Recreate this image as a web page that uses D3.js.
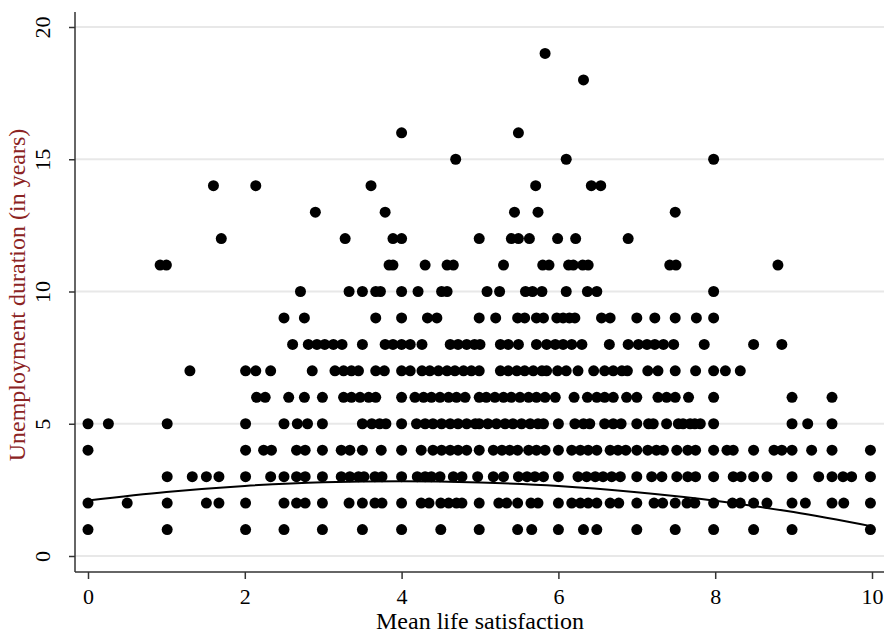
<!DOCTYPE html>
<html>
<head>
<meta charset="utf-8">
<script src="https://cdn.jsdelivr.net/npm/d3@7"></script>
<style>
  body { margin: 0; background: #fff; }
  svg { display: block; }
  text { font-family: "Liberation Serif", "Times New Roman", serif; }
</style>
</head>
<body>
<svg width="884" height="634"></svg>
<script>
// x positions (mean life satisfaction) for each unemployment duration
const dur1 = [0, 1.01, 2.01, 2.5, 2.99, 3.5, 4.0, 4.5, 4.99, 5.48, 5.66, 6.0, 6.32, 6.49, 7.0, 7.49, 7.98, 8.49, 8.98, 9.98];
const dur2 = [0, 0.5, 1.01, 1.51, 1.67, 2.01, 2.5, 2.66, 2.77, 2.99, 3.33, 3.5, 3.66, 3.75, 4.0, 4.25, 4.35, 4.5, 4.6, 4.7, 4.77, 4.99,
              5.24, 5.34, 5.48, 5.65, 5.74, 6.0, 6.17, 6.28, 6.38, 6.49, 6.66, 6.77, 7.0, 7.22, 7.33, 7.49, 7.64, 7.74, 7.98,
              8.22, 8.32, 8.49, 8.66, 8.98, 9.15, 9.49, 9.64, 9.98];
const dur3 = [1.01, 1.33, 1.51, 1.67, 2.01, 2.33, 2.5, 2.66, 2.77, 2.99, 3.23, 3.34, 3.45, 3.52, 3.66, 3.75, 4.0, 4.2, 4.3, 4.38, 4.49,
              4.66, 4.77, 4.97, 5.17, 5.3, 5.49, 5.6, 5.7, 5.81, 6.0, 6.25, 6.36, 6.47, 6.57, 6.68, 6.79, 7.0, 7.19, 7.32, 7.51,
              7.65, 7.75, 7.98, 8.23, 8.33, 8.49, 8.66, 8.98, 9.32, 9.49, 9.63, 9.74, 9.98];
const dur4 = [0, 2.01, 2.24, 2.34, 2.66, 2.77, 2.99, 3.23, 3.34, 3.5, 3.74, 4.0, 4.25, 4.4, 4.51, 4.62, 4.72, 4.83, 4.99, 5.17, 5.28,
              5.38, 5.48, 5.62, 5.72, 5.83, 6.0, 6.17, 6.28, 6.38, 6.49, 6.66, 6.76, 6.86, 7.0, 7.14, 7.25, 7.34, 7.51, 7.65,
              7.75, 7.98, 8.15, 8.23, 8.49, 8.75, 8.85, 8.98, 9.23, 9.49, 9.98];
const dur5 = [0, 0.26, 1.01, 2.01, 2.5, 2.67, 2.8, 2.99, 3.5, 3.62, 3.72, 3.8, 4.0, 4.19, 4.3, 4.4, 4.51, 4.62, 4.72, 4.83, 4.94, 4.99,
              5.1, 5.21, 5.32, 5.42, 5.53, 5.64, 5.74, 5.81, 6.0, 6.21, 6.32, 6.4, 6.59, 6.7, 6.8, 7.0, 7.15, 7.21, 7.38, 7.53,
              7.59, 7.68, 7.74, 7.81, 7.98, 8.98, 9.18, 9.49];
const dur6 = [2.15, 2.26, 2.56, 2.76, 2.99, 3.26, 3.36, 3.47, 3.58, 3.67, 4.0, 4.17, 4.28, 4.38, 4.49, 4.6, 4.7, 4.81, 4.99, 5.08,
              5.19, 5.3, 5.4, 5.51, 5.62, 5.72, 5.83, 5.96, 6.2, 6.37, 6.49, 6.59, 6.7, 6.87, 7.0, 7.27, 7.38, 7.49, 7.66, 7.98,
              8.98, 9.49];
const dur7 = [1.3, 2.01, 2.14, 2.33, 2.86, 3.15, 3.26, 3.36, 3.45, 3.67, 3.78, 4.0, 4.11, 4.26, 4.36, 4.47, 4.58, 4.68, 4.79, 4.89,
              4.99, 5.26, 5.36, 5.47, 5.57, 5.68, 5.79, 5.85, 5.99, 6.1, 6.25, 6.45, 6.59, 6.7, 6.81, 6.88, 7.14, 7.27, 7.49,
              7.75, 7.98, 8.13, 8.32];
const dur8 = [2.61, 2.81, 2.92, 3.02, 3.13, 3.24, 3.5, 3.79, 3.89, 4.0, 4.11, 4.26, 4.62, 4.72, 4.83, 4.93, 5.0, 5.26, 5.36, 5.49,
              5.72, 5.85, 5.96, 6.06, 6.17, 6.3, 6.65, 6.89, 7.02, 7.13, 7.23, 7.34, 7.47, 7.86, 8.49, 8.85];
const dur9 = [2.5, 2.76, 3.67, 4.0, 4.33, 4.45, 4.99, 5.2, 5.48, 5.57, 5.72, 5.81, 5.98, 6.06, 6.14, 6.21, 6.55, 6.66, 7.0, 7.23,
              7.49, 7.76, 7.98];
const dur10 = [2.71, 3.33, 3.5, 3.67, 3.73, 4.0, 4.21, 4.51, 4.58, 5.09, 5.25, 5.58, 5.67, 5.79, 6.1, 6.37, 6.49, 7.98];
const dur11 = [0.92, 1.0, 3.84, 3.89, 4.3, 4.58, 4.66, 5.3, 5.8, 5.88, 6.13, 6.19, 6.31, 6.38, 7.42, 7.5, 8.8];
const dur12 = [1.7, 3.28, 3.89, 4.0, 4.99, 5.4, 5.49, 5.63, 5.99, 6.22, 6.89];
const dur13 = [2.9, 3.79, 5.44, 5.74, 7.49];
const dur14 = [1.6, 2.14, 3.61, 5.71, 6.42, 6.54];
const dur15 = [4.69, 6.1, 7.98];
const dur16 = [4.0, 5.49];
const dur18 = [6.32];
const dur19 = [5.83];

// fitted curve at x = 0..10
const fitX = [0, 1, 2, 3, 4, 5, 6, 7, 8, 9, 10];
const fitY = [2.1, 2.42, 2.65, 2.79, 2.83, 2.78, 2.65, 2.41, 2.09, 1.66, 1.12];

const xTicks = [0, 2, 4, 6, 8, 10];
const yTicks = [0, 5, 10, 15, 20];

const groups = [[1, dur1], [2, dur2], [3, dur3], [4, dur4], [5, dur5], [6, dur6], [7, dur7], [8, dur8], [9, dur9],
                [10, dur10], [11, dur11], [12, dur12], [13, dur13], [14, dur14], [15, dur15], [16, dur16],
                [18, dur18], [19, dur19]];
const points = [];
groups.forEach(([y, xs]) => xs.forEach(x => points.push({x: x, y: y})));

const svg = d3.select("svg");
const xScale = d3.scaleLinear().domain([0, 10]).range([88, 872]);
const yScale = d3.scaleLinear().domain([0, 20]).range([556, 27]);
const plotLeft = 75, plotBottom = 572, plotTop = 12, plotRight = 884;

// gridlines
svg.append("g")
  .selectAll("line")
  .data(yTicks)
  .enter().append("line")
  .attr("x1", plotLeft).attr("x2", plotRight)
  .attr("y1", d => yScale(d)).attr("y2", d => yScale(d))
  .attr("stroke", "#e8e8e8")
  .attr("stroke-width", 2);

// points
svg.append("g")
  .selectAll("circle")
  .data(points)
  .enter().append("circle")
  .attr("cx", d => xScale(d.x))
  .attr("cy", d => yScale(d.y))
  .attr("r", 5.5)
  .attr("fill", "#000");

// fitted line
const line = d3.line()
  .x((d, i) => xScale(fitX[i]))
  .y(d => yScale(d))
  .curve(d3.curveMonotoneX);
svg.append("path")
  .datum(fitY)
  .attr("d", line)
  .attr("fill", "none")
  .attr("stroke", "#000")
  .attr("stroke-width", 2);

// x axis
const xAxis = d3.axisBottom(xScale).tickValues(xTicks).tickSize(7).tickPadding(9).tickFormat(d3.format("d"));
const gx = svg.append("g")
  .attr("transform", "translate(0," + plotBottom + ")")
  .call(xAxis);
gx.select(".domain").remove();
gx.append("line").attr("x1", plotLeft).attr("x2", plotRight).attr("stroke", "#333").attr("stroke-width", 1.5);
gx.selectAll(".tick line").attr("stroke", "#333").attr("stroke-width", 1.5);
gx.selectAll(".tick text").attr("font-size", 22).attr("fill", "#000")
  .style("font-family", "'Liberation Serif', serif");

// y axis
const yAxis = d3.axisLeft(yScale).tickValues(yTicks).tickSize(6).tickPadding(0).tickFormat(d3.format("d"));
const gy = svg.append("g")
  .attr("transform", "translate(" + plotLeft + ",0)")
  .call(yAxis);
gy.select(".domain").remove();
gy.append("line").attr("y1", plotTop).attr("y2", plotBottom).attr("stroke", "#333").attr("stroke-width", 1.5);
gy.selectAll(".tick line").attr("stroke", "#333").attr("stroke-width", 1.5);
gy.selectAll(".tick text")
  .attr("font-size", 22).attr("fill", "#000")
  .attr("x", 0).attr("dy", 0)
  .attr("text-anchor", "middle")
  .attr("transform", "translate(-25,0) rotate(-90)")
  .style("font-family", "'Liberation Serif', serif");

// axis titles
svg.append("text")
  .attr("x", 480).attr("y", 629)
  .attr("text-anchor", "middle")
  .attr("font-size", 24)
  .attr("fill", "#000")
  .text("Mean life satisfaction");

svg.append("text")
  .attr("transform", "translate(25,295) rotate(-90)")
  .attr("text-anchor", "middle")
  .attr("font-size", 24)
  .attr("fill", "#8b2323")
  .text("Unemployment duration (in years)");
</script>
</body>
</html>
